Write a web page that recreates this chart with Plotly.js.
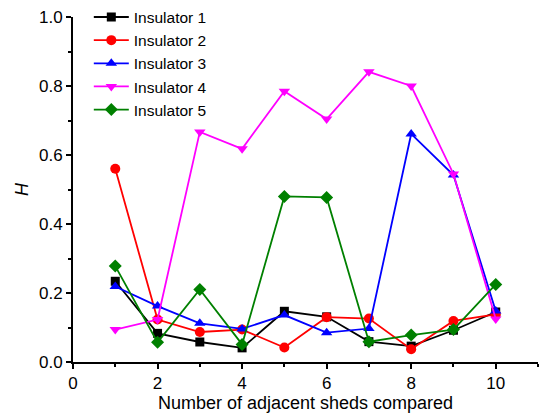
<!DOCTYPE html>
<html>
<head>
<meta charset="utf-8">
<script src="https://cdn.plot.ly/plotly-3.0.1.min.js"></script>
<style>html,body{margin:0;padding:0;background:#fff;}#chart{width:539px;height:415px;}</style>
</head>
<body>
<div id="chart"></div>
<script>
const xValues = [1, 2, 3, 4, 5, 6, 7, 8, 9, 10];
const seriesNames = ["Insulator 1", "Insulator 2", "Insulator 3", "Insulator 4", "Insulator 5"];
const insulator1 = [0.234, 0.083, 0.058, 0.041, 0.147, 0.131, 0.059, 0.046, 0.092, 0.145];
const insulator2 = [0.560, 0.123, 0.087, 0.094, 0.042, 0.130, 0.126, 0.037, 0.119, 0.138];
const insulator3 = [0.219, 0.162, 0.112, 0.096, 0.136, 0.085, 0.097, 0.661, 0.542, 0.148];
const insulator4 = [0.094, 0.123, 0.667, 0.618, 0.785, 0.704, 0.841, 0.800, 0.545, 0.125];
const insulator5 = [0.278, 0.057, 0.210, 0.051, 0.480, 0.477, 0.059, 0.078, 0.094, 0.225];
const xTickVals = [0, 2, 4, 6, 8, 10];
const yTickVals = [0.0, 0.2, 0.4, 0.6, 0.8, 1.0];

const allSeries = [insulator1, insulator2, insulator3, insulator4, insulator5];
const colors = ["#000000", "#ff0000", "#0000ff", "#ff00ff", "#008000"];
const symbols = ["square", "circle", "triangle-up", "triangle-down", "diamond"];
const sizes = [9, 10, 10, 10, 10];

const traces = allSeries.map((ys, i) => ({
  x: xValues,
  y: ys,
  name: seriesNames[i],
  type: "scatter",
  mode: "lines+markers",
  line: {color: colors[i], width: 1.8},
  marker: {color: colors[i], symbol: symbols[i], size: sizes[i]},
  cliponaxis: false
}));

const font = "Arial, 'Liberation Sans', sans-serif";
const layout = {
  width: 539,
  height: 415,
  margin: {l: 73, r: 1, t: 16, b: 53},
  paper_bgcolor: "#ffffff",
  plot_bgcolor: "#ffffff",
  font: {family: font, color: "#000000", size: 17},
  showlegend: true,
  legend: {
    x: 0.034, y: 1.045, xanchor: "left", yanchor: "top",
    bgcolor: "rgba(0,0,0,0)",
    itemwidth: 35,
    font: {family: font, size: 15.5, color: "#000000"},
    tracegroupgap: 0
  },
  xaxis: {
    range: [0, 11],
    tickvals: xTickVals,
    ticks: "outside", ticklen: 5, tickwidth: 2, tickcolor: "#000",
    showline: true, linecolor: "#000", linewidth: 2,
    showgrid: false, zeroline: false,
    tickfont: {family: font, size: 17},
    minor: {dtick: 1, ticks: "outside", ticklen: 3, tickwidth: 2, tickcolor: "#000", showgrid: false},
    title: {text: "Number of adjacent sheds compared", font: {family: font, size: 18}, standoff: 2}
  },
  yaxis: {
    range: [0, 1.0],
    tickvals: yTickVals,
    tickformat: ".1f",
    ticks: "outside", ticklen: 5, tickwidth: 2, tickcolor: "#000",
    showline: true, linecolor: "#000", linewidth: 2,
    showgrid: false, zeroline: false,
    tickfont: {family: font, size: 17},
    minor: {dtick: 0.1, ticks: "outside", ticklen: 3, tickwidth: 2, tickcolor: "#000", showgrid: false},
    title: {text: "<i>H</i>", font: {family: font, size: 18}, standoff: 6}
  }
};

Plotly.newPlot("chart", traces, layout, {displayModeBar: false, staticPlot: true});
</script>
</body>
</html>
